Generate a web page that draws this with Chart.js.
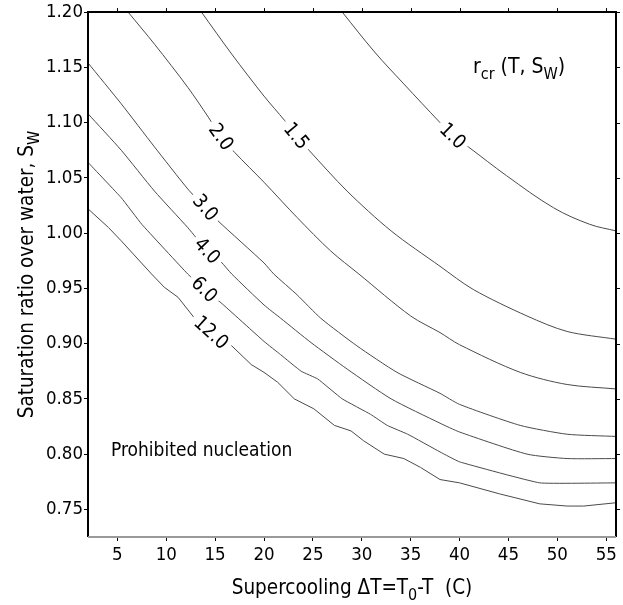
<!DOCTYPE html>
<html>
<head>
<meta charset="utf-8">
<script src="https://cdn.jsdelivr.net/npm/chart.js@4.4.1/dist/chart.umd.min.js"></script>
<style>
  html, body { margin: 0; padding: 0; background: #fff; }
</style>
</head>
<body>
<canvas id="chart" width="623" height="605"></canvas>
<script>
// tick labels
const xTicks = [5, 10, 15, 20, 25, 30, 35, 40, 45, 50, 55];
const yTicks = [0.75, 0.80, 0.85, 0.90, 0.95, 1.00, 1.05, 1.10, 1.15, 1.20];

// contour levels of r_cr, each read as supercooling (t) vs saturation ratio (s)
const levels = ['1.0', '1.5', '2.0', '3.0', '4.0', '6.0', '12.0'];

const t10 = [28.0, 31.3, 34.3, 38.0, 39.3, 40.9, 44.8, 49.6, 53.3, 56];
const s10 = [1.200, 1.164, 1.135, 1.100, 1.088, 1.078, 1.052, 1.023, 1.008, 1.002];

const t15 = [13.6, 16.7, 20.0, 22.1, 23.3, 24.6, 28.5, 33.0, 38.0, 41.4, 46.9, 51.0, 56];
const s15 = [1.200, 1.162, 1.124, 1.102, 1.088, 1.075, 1.038, 1.002, 0.970, 0.949, 0.925, 0.911, 0.904];

const t20 = [6.1, 8.8, 12.2, 14.3, 15.6, 17.0, 20.0, 23.4, 26.8, 29.7, 35.0, 38.0, 40.0, 46.2, 51.0, 56];
const s20 = [1.200, 1.171, 1.132, 1.105, 1.087, 1.073, 1.046, 1.014, 0.984, 0.963, 0.925, 0.910, 0.899, 0.874, 0.863, 0.859];

const t30 = [2, 5.4, 8.8, 12.2, 14.0, 15.3, 20.0, 21.0, 23.4, 25.8, 29.5, 33.6, 38.0, 40.0, 46.2, 51.0, 56];
const s30 = [1.154, 1.117, 1.078, 1.040, 1.023, 1.011, 0.973, 0.963, 0.944, 0.923, 0.898, 0.874, 0.855, 0.845, 0.826, 0.818, 0.816];

const t40 = [2, 5.4, 8.8, 12.2, 14.2, 15.6, 16.7, 20.0, 21.7, 24.8, 28.5, 33.0, 38.0, 40.0, 46.9, 51.0, 56];
const s40 = [1.108, 1.075, 1.038, 1.005, 0.984, 0.974, 0.963, 0.935, 0.923, 0.901, 0.877, 0.850, 0.828, 0.820, 0.800, 0.796, 0.796];

const t60 = [2, 5.4, 7.5, 12.2, 13.9, 15.6, 20.0, 21.7, 23.8, 25.5, 28.0, 30.9, 32.6, 34.7, 38.0, 40.0, 48.2, 56];
const s60 = [1.064, 1.032, 1.008, 0.963, 0.949, 0.937, 0.902, 0.890, 0.875, 0.868, 0.850, 0.836, 0.826, 0.818, 0.802, 0.793, 0.774, 0.774];

const t120 = [2, 4.1, 5.4, 8.5, 9.8, 11.2, 12.9, 14.6, 16.7, 18.7, 20.0, 21.4, 23.1, 25.1, 27.2, 28.9, 30.2, 32.3, 34.3, 36.0, 38.0, 40.0, 44.1, 48.2, 51.0, 52.7, 56];
const s120 = [1.022, 1.005, 0.993, 0.963, 0.951, 0.942, 0.923, 0.910, 0.898, 0.881, 0.874, 0.865, 0.850, 0.841, 0.826, 0.821, 0.812, 0.800, 0.796, 0.788, 0.777, 0.774, 0.764, 0.755, 0.753, 0.753, 0.756];

// where along each contour its label sits (supercooling value)
const labelAt = [39.3, 23.3, 15.6, 14.0, 14.2, 13.9, 14.6];

const curves = [[t10, s10], [t15, s15], [t20, s20], [t30, s30], [t40, s40], [t60, s60], [t120, s120]];
const tensions = [0.35, 0.3, 0.3, 0.2, 0.2, 0.1, 0];

const FONT = '"DejaVu Sans Condensed", "DejaVu Sans", sans-serif';
const LINE = '#4a4a4a';

function pairUp(t, s) {
  return t.map((v, i) => ({ x: v, y: s[i] }));
}

// text with subscript pieces: parts = [[text, isSub], ...]
function drawRich(ctx, parts, x, y, size, align) {
  const subSize = Math.round(size * 0.78);
  let total = 0;
  parts.forEach(([txt, sub]) => {
    ctx.font = (sub ? subSize : size) + 'px ' + FONT;
    total += ctx.measureText(txt).width;
  });
  let cx = align === 'center' ? x - total / 2 : x;
  ctx.textAlign = 'left';
  ctx.textBaseline = 'alphabetic';
  parts.forEach(([txt, sub]) => {
    ctx.font = (sub ? subSize : size) + 'px ' + FONT;
    ctx.fillText(txt, cx, sub ? y + Math.round(size * 0.27) : y);
    cx += ctx.measureText(txt).width;
  });
}

const contourLabels = {
  id: 'contourLabels',
  afterDatasetsDraw(chart) {
    const ctx = chart.ctx;
    const xs = chart.scales.x, ys = chart.scales.y;
    ctx.save();
    ctx.font = '19.5px ' + FONT;
    levels.forEach((lv, k) => {
      const [t, s] = curves[k];
      const at = labelAt[k];
      let i = 0;
      while (i < t.length - 2 && t[i + 1] < at) i++;
      const f = (at - t[i]) / (t[i + 1] - t[i]);
      const val = s[i] + f * (s[i + 1] - s[i]);
      const a = Math.max(0, i - 1), b = Math.min(t.length - 1, i + 2);
      const ang = Math.atan2(ys.getPixelForValue(s[b]) - ys.getPixelForValue(s[a]),
                             xs.getPixelForValue(t[b]) - xs.getPixelForValue(t[a]));
      const px = xs.getPixelForValue(at), py = ys.getPixelForValue(val);
      const w = ctx.measureText(lv).width;
      ctx.save();
      ctx.translate(px, py);
      ctx.rotate(ang);
      ctx.fillStyle = '#fff';
      ctx.fillRect(-w / 2 - 4, -9, w + 8, 18);
      ctx.fillStyle = '#000';
      ctx.textAlign = 'center';
      ctx.textBaseline = 'middle';
      ctx.fillText(lv, 0, 1);
      ctx.restore();
    });
    ctx.restore();
  }
};

const frameAndText = {
  id: 'frameAndText',
  afterDraw(chart) {
    const ctx = chart.ctx;
    const a = chart.chartArea;
    const xs = chart.scales.x, ys = chart.scales.y;
    ctx.save();
    // frame
    ctx.lineWidth = 2;
    ctx.strokeStyle = '#000';
    ctx.beginPath();
    ctx.moveTo(a.left, a.bottom);
    ctx.lineTo(a.left, a.top);
    ctx.lineTo(a.right, a.top);
    ctx.lineTo(a.right, a.bottom);
    ctx.stroke();
    ctx.strokeStyle = '#9a9a9a';
    ctx.beginPath();
    ctx.moveTo(a.left, a.bottom);
    ctx.lineTo(a.right, a.bottom);
    ctx.stroke();
    // top and right tick marks
    ctx.lineWidth = 1;
    ctx.strokeStyle = '#000';
    ctx.beginPath();
    xTicks.forEach(v => {
      const p = Math.round(xs.getPixelForValue(v)) + 0.5;
      ctx.moveTo(p, a.top);
      ctx.lineTo(p, a.top - 4);
    });
    yTicks.forEach(v => {
      const p = Math.round(ys.getPixelForValue(v)) + 0.5;
      ctx.moveTo(a.right, p);
      ctx.lineTo(a.right + 4, p);
    });
    ctx.stroke();

    ctx.fillStyle = '#000';
    // axis titles
    drawRich(ctx, [['Supercooling \u0394T=T', false], ['0', true], ['-T  (C)', false]],
      (a.left + a.right) / 2, 594, 20.5, 'center');
    ctx.save();
    ctx.translate(33, (a.top + a.bottom) / 2);
    ctx.rotate(-Math.PI / 2);
    drawRich(ctx, [['Saturation ratio over water, S', false], ['W', true]], 0, 0, 20.5, 'center');
    ctx.restore();
    // annotations
    drawRich(ctx, [['r', false], ['cr', true], [' (T, S', false], ['W', true], [')', false]],
      473, 73, 21, 'left');
    drawRich(ctx, [['Prohibited nucleation', false]], 111, 456, 19, 'left');
    ctx.restore();
  }
};

new Chart(document.getElementById('chart'), {
  type: 'line',
  data: {
    datasets: levels.map((lv, k) => ({
      label: lv,
      data: pairUp(curves[k][0], curves[k][1]),
      borderColor: LINE,
      borderWidth: 1,
      pointRadius: 0,
      tension: tensions[k],
      fill: false
    }))
  },
  options: {
    responsive: false,
    animation: false,
    layout: { padding: { left: 0, right: 7, top: 11, bottom: 0 } },
    plugins: {
      legend: { display: false },
      tooltip: { enabled: false }
    },
    scales: {
      x: {
        type: 'linear',
        min: 2,
        max: 56,
        afterBuildTicks: s => { s.ticks = xTicks.map(v => ({ value: v })); },
        afterFit: s => { s.height = 68; },
        border: { display: false },
        grid: { display: true, drawOnChartArea: false, drawTicks: true, tickLength: 4, color: '#000' },
        ticks: {
          color: '#000',
          padding: 3,
          maxRotation: 0,
          font: { family: FONT, size: 18.5 },
          callback: v => String(v)
        }
      },
      y: {
        type: 'linear',
        min: 0.725,
        max: 1.20,
        afterBuildTicks: s => { s.ticks = yTicks.map(v => ({ value: v })); },
        afterFit: s => { s.width = 88; },
        border: { display: false },
        grid: { display: true, drawOnChartArea: false, drawTicks: true, tickLength: 4, color: '#000' },
        ticks: {
          color: '#000',
          padding: 1,
          font: { family: FONT, size: 18.5 },
          callback: v => v.toFixed(2)
        }
      }
    }
  },
  plugins: [contourLabels, frameAndText]
});
</script>
</body>
</html>
